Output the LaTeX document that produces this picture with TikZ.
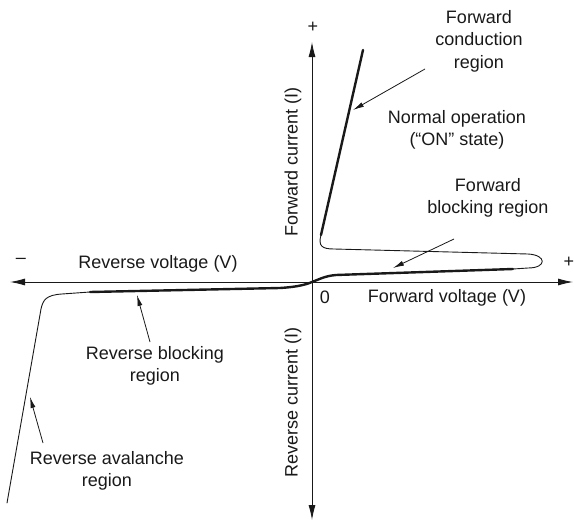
\documentclass[tikz,border=0pt]{standalone}
\usepackage{fontspec}
\setmainfont{Liberation Sans}
\usepackage{tikz}
\usetikzlibrary{arrows.meta}
\definecolor{inkgray}{RGB}{25, 25, 25}

\begin{document}
\begin{tikzpicture}[x=1pt, y=-1pt,
		lbl/.style={inkgray, inner sep=0pt, align=center, font=\fontsize{18}{22.5}\selectfont},
		axis/.style={inkgray, line width=0.9pt, {Latex[length=15pt,width=7pt]}-{Latex[length=15pt,width=7pt]}},
		annot/.style={inkgray, line width=0.8pt, -{Latex[length=11pt,width=5pt]}},
		thick curve/.style={inkgray, line width=2.4pt, line cap=round},
		thin curve/.style={inkgray, line width=0.9pt, line cap=round}]
	\useasboundingbox (0,0) rectangle (574,530);

	% AXES
	\coordinate (vleft) at (10,282);
	\coordinate (vright) at (573,282);
	\coordinate (itop) at (312,42);
	\coordinate (ibot) at (312,520);
	\draw[axis] (vleft) -- (vright);
	\draw[axis] (itop) -- (ibot);

	% AXIS LABELS
	\node[lbl] (plusI) at (313,27) {+};
	\node[lbl] (plusV) at (569,262) {+};
	\node[lbl] (minusV) at (21,261) {\textendash};
	\node[lbl] (zero) at (325,297) {0};
	\node[lbl] (revvolt) at (158,264) {Reverse voltage (V)};
	\node[lbl] (fwdvolt) at (447,298) {Forward voltage (V)};
	\node[lbl, rotate=90] (fwdcurr) at (293,162) {Forward current (I)};
	\node[lbl, rotate=90] (revcurr) at (293,402) {Reverse current (I)};

	% CHARACTERISTIC CURVE
	\draw[thick curve] (363,50) -- (321,235);
	\draw[thin curve] (321,235) .. controls (318,246) and (322,249) .. (334,249)
		-- (528,254) .. controls (547,255) and (547,268) .. (528,268) -- (513,269);
	\draw[thick curve] (513,269) -- (336,275) .. controls (324,276) and (318,280) .. (312,282)
		.. controls (305,285) and (296,287) .. (280,288) -- (90,292);
	\draw[thin curve] (90,292) -- (62,294) .. controls (46,295) and (43,300) .. (41,309) -- (7,503);

	% REGION LABELS
	\node[lbl] (fwdcond) at (479,41) {Forward\\conduction\\region};
	\node[lbl] (normalop) at (457,130) {Normal operation\\(``ON'' state)};
	\node[lbl] (fwdblock) at (488,198) {Forward\\blocking region};
	\node[lbl] (revblock) at (155,366) {Reverse blocking\\region};
	\node[lbl] (revaval) at (107,471) {Reverse avalanche\\region};

	% POINTERS
	\coordinate (fwdcondtail) at (425,69);
	\coordinate (fwdcondpt) at (353,110);
	\coordinate (fwdblocktail) at (454,239);
	\coordinate (fwdblockpt) at (393,268);
	\coordinate (revblocktail) at (150,342);
	\coordinate (revblockpt) at (137,295);
	\coordinate (revavaltail) at (43,443);
	\coordinate (revavalpt) at (30,397);
	\draw[annot] (fwdcondtail) -- (fwdcondpt);
	\draw[annot] (fwdblocktail) -- (fwdblockpt);
	\draw[annot] (revblocktail) -- (revblockpt);
	\draw[annot] (revavaltail) -- (revavalpt);

\end{tikzpicture}
\end{document}
